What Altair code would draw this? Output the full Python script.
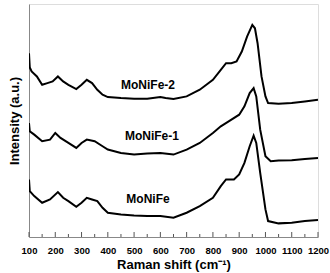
import altair as alt
import pandas as pd

# Raman shift positions (cm^-1) and intensities (arbitrary units)
x_top = [100, 103, 110, 130, 150, 170, 190, 210, 230, 250, 280, 300, 320, 340, 360, 380, 400,
         450, 500, 550, 600, 620, 650, 700, 750, 800, 830, 850, 870, 890, 910, 930, 950,
         960, 970, 985, 1000, 1010, 1050, 1100, 1150, 1200]
y_top = [553, 510, 498, 483, 458, 463, 468, 483, 468, 458, 445, 458, 473, 463, 443, 428, 421,
         418, 416, 416, 421, 418, 415, 423, 443, 473, 503, 523, 523, 528, 558, 603, 638,
         628, 583, 483, 423, 403, 401, 403, 408, 413]

x_mid = [100, 103, 120, 150, 180, 200, 220, 250, 280, 300, 320, 350, 380, 400, 450, 500,
         550, 600, 650, 700, 750, 800, 830, 860, 900, 920, 940, 955, 965, 980, 1000, 1020,
         1050, 1100, 1150, 1200]
y_mid = [343, 318, 308, 288, 293, 313, 298, 283, 268, 283, 293, 288, 273, 263, 253, 248,
         251, 253, 248, 263, 283, 313, 333, 348, 368, 393, 433, 448, 423, 323, 243, 228,
         230, 231, 235, 238]

x_bot = [100, 103, 120, 150, 180, 210, 230, 250, 280, 300, 320, 340, 360, 380, 400, 450,
         500, 550, 600, 650, 700, 750, 800, 830, 850, 880, 900, 920, 940, 955, 965, 980,
         1000, 1010, 1050, 1100, 1150, 1200]
y_bot = [173, 138, 123, 103, 113, 135, 118, 108, 91, 103, 118, 113, 108, 88, 73, 68,
         65, 63, 63, 58, 73, 93, 118, 153, 173, 173, 188, 223, 273, 305, 283, 193,
         83, 48, 41, 43, 48, 51]

labels = ["MoNiFe-2", "MoNiFe-1", "MoNiFe"]
label_x = [553, 568, 553]
label_y = [458, 303, 113]

major_ticks = list(range(100, 1201, 100))
minor_ticks = list(range(150, 1200, 100))

rows = []
for name, xs, ys in [("MoNiFe-2", x_top, y_top), ("MoNiFe-1", x_mid, y_mid), ("MoNiFe", x_bot, y_bot)]:
    for i, (a, b) in enumerate(zip(xs, ys)):
        rows.append({"series": name, "x": a, "y": b, "order": i})
df = pd.DataFrame(rows)
lab_df = pd.DataFrame({"label": labels, "x": label_x, "y": label_y})
maj_df = pd.DataFrame({"x": major_ticks})
min_df = pd.DataFrame({"x": minor_ticks})

xscale = alt.Scale(domain=[100, 1200], nice=False, zero=False)
yscale = alt.Scale(domain=[0, 701], nice=False, zero=False)

xaxis = alt.Axis(title="Raman shift (cm⁻¹)", values=major_ticks, format="d",
                 ticks=False, grid=False, labelPadding=8, labelFontSize=9.5,
                 labelOverlap=False, labelFlush=False, labelBound=False,
                 labelFontWeight="bold", labelColor="black", titleFontSize=13,
                 titleFontWeight="bold", titleColor="black", titlePadding=4,
                 domainColor="#888888", labelFont="Liberation Sans",
                 titleFont="Liberation Sans")
yaxis = alt.Axis(title="Intensity (a.u.)", labels=False, ticks=False, grid=False,
                 titleFontSize=13, titleFontWeight="bold", titleColor="black",
                 titlePadding=8, domainColor="#888888", titleFont="Liberation Sans")

X = alt.X("x:Q", scale=xscale, axis=xaxis)
Y = alt.Y("y:Q", scale=yscale, axis=yaxis)

lines = alt.Chart(df).mark_line(color="black", strokeWidth=2, clip=True).encode(
    x=X, y=Y, detail="series:N", order="order:Q")

text = alt.Chart(lab_df).mark_text(fontSize=12, fontWeight="bold", font="Liberation Sans",
                                   color="black").encode(x=X, y=Y, text="label:N")

maj = alt.Chart(maj_df).mark_rule(color="#555555", strokeWidth=1).encode(
    x=X, y=alt.value(233), y2=alt.value(228))
mnr = alt.Chart(min_df).mark_rule(color="#555555", strokeWidth=1).encode(
    x=X, y=alt.value(233), y2=alt.value(230))

chart = alt.layer(lines, text, maj, mnr).properties(
    width=289, height=233,
    autosize=alt.AutoSizeParams(type="none"),
    padding={"left": 29, "top": 4, "right": 12, "bottom": 36},
).configure_view(stroke="#888888", strokeWidth=1).configure_axis(
    labelOverlap=False).configure(background="white")

chart.save("out.html", embed_options={"renderer": "svg", "actions": False})
